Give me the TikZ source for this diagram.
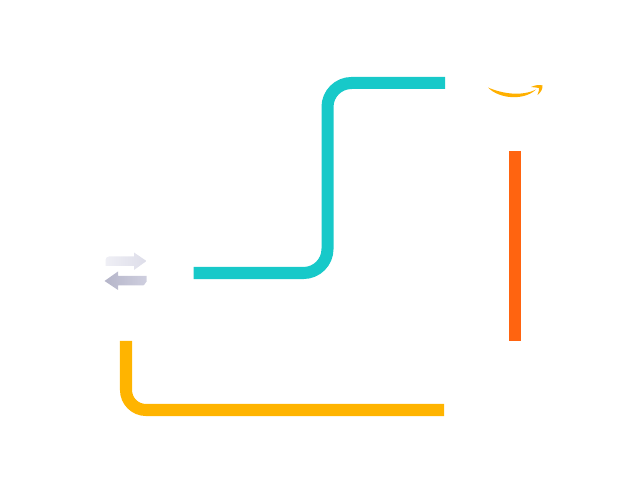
\documentclass[tikz,border=0pt]{standalone}
\definecolor{tealline}{HTML}{17C9C9}
\definecolor{orangeline}{HTML}{FF6410}
\definecolor{yellowline}{HTML}{FFB400}
\definecolor{smile}{HTML}{FFB000}
\definecolor{arrowpale}{HTML}{EFEFF5}
\definecolor{arrowmid}{HTML}{DDDDE9}
\definecolor{arrowdark}{HTML}{B5B5C9}
\definecolor{arrowsoft}{HTML}{CFCFDF}
\tikzset{
  route/.style={line width=0.3cm},
}
\begin{document}
\begin{tikzpicture}[x=0.025cm,y=-0.025cm]
    \useasboundingbox (0,0) rectangle (640,492);
    % Route ends
    \coordinate (tealstart) at (193.5,273);
    \coordinate (tealbend) at (327.5,180);
    \coordinate (tealend) at (445,83);
    \coordinate (orangestart) at (515,151);
    \coordinate (orangeend) at (515,341);
    \coordinate (yellowstart) at (126,341);
    \coordinate (yellowend) at (444,410);
    % Teal route
    \draw[route, tealline, rounded corners=0.6cm] (tealstart) -| (tealbend) |- (tealend);
    % Orange route
    \draw[route, orangeline] (orangestart) -- (orangeend);
    % Yellow route
    \draw[route, yellowline, rounded corners=0.5cm] (yellowstart) |- (yellowend);
    % Exchange arrows
    \shade[left color=arrowpale, right color=arrowmid]
        (105.5,266) -- (105.5,260) to[out=90,in=180] (109,256.5) -- (134,256.5) -- (134,252.5)
        -- (146.5,261) -- (134,270) -- (134,266) -- cycle;
    \shade[left color=arrowdark, right color=arrowsoft]
        (104.5,281) -- (118,271.5) -- (118,276) -- (146.5,276) -- (146.5,282)
        to[out=90,in=0] (143,285.5) -- (118,285.5) -- (118,290) -- cycle;
    % Smile
    \fill[smile] (488,87.5) .. controls (503,94) and (522,96.5) .. (536,89.5)
        .. controls (524,101) and (499,99) .. cycle;
    \fill[smile] (531,87) .. controls (535,85) and (540,84.5) .. (542.5,85.5)
        .. controls (543,88) and (541,92.5) .. (537.5,95)
        .. controls (538.5,92) and (539.5,89.5) .. (539,88)
        .. controls (537,87.5) and (534.5,87.5) .. cycle;
\end{tikzpicture}
\end{document}
